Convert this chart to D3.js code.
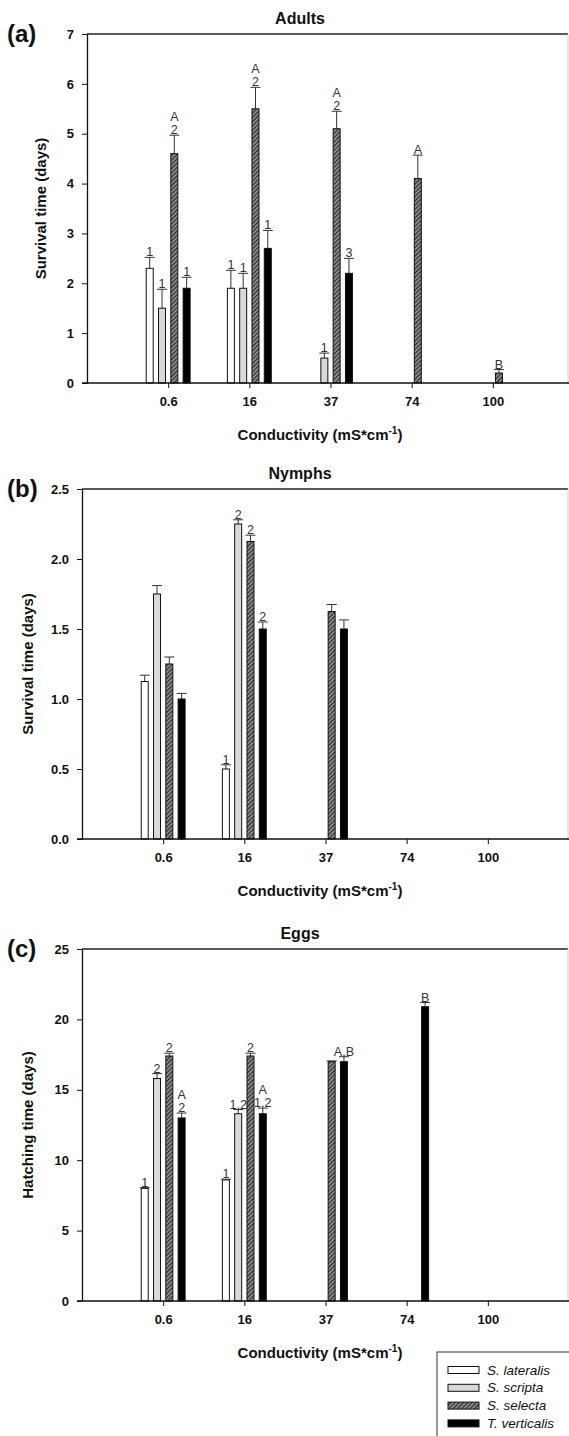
<!DOCTYPE html>
<html>
<head>
<meta charset="utf-8">
<script src="https://cdn.jsdelivr.net/npm/d3@7"></script>
<style>
  body { margin: 0; background: #fff; }
  svg text { font-family: "Liberation Sans", Arial, sans-serif; }
</style>
</head>
<body>
<div id="chart"></div>
<script>
// categories and series
var categories = ["0.6", "16", "37", "74", "100"];
var species = ["S. lateralis", "S. scripta", "S. selecta", "T. verticalis"];

// values are [category][species], null = no bar
var adultsMean = [[2.3, 1.5, 4.6, 1.9], [1.9, 1.9, 5.5, 2.7], [null, 0.5, 5.1, 2.2], [null, null, 4.1, null], [null, null, 0.2, null]];
var adultsErr  = [[0.22, 0.38, 0.37, 0.22], [0.36, 0.3, 0.43, 0.36], [null, 0.1, 0.35, 0.3], [null, null, 0.47, null], [null, null, 0.07, null]];
var adultsLab  = [["1", "1", "A\n2", "1"], ["1", "1", "A\n2", "1"], [null, "1", "A\n2", "3"], [null, null, "A", null], [null, null, "B", null]];

var nymphsMean = [[1.125, 1.75, 1.25, 1.0], [0.5, 2.25, 2.125, 1.5], [null, null, 1.625, 1.5], [null, null, null, null], [null, null, null, null]];
var nymphsErr  = [[0.045, 0.06, 0.05, 0.04], [0.03, 0.03, 0.045, 0.05], [null, null, 0.05, 0.065], [null, null, null, null], [null, null, null, null]];
var nymphsLab  = [[null, null, null, null], ["1", "2", "2", "2"], [null, null, null, null], [null, null, null, null], [null, null, null, null]];

var eggsMean = [[8.0, 15.8, 17.4, 13.0], [8.6, 13.3, 17.4, 13.3], [null, null, 17.0, 17.0], [null, null, null, 20.9], [null, null, null, null]];
var eggsErr  = [[0.05, 0.35, 0.2, 0.35], [0.05, 0.3, 0.2, 0.4], [null, null, 0.05, 0.35], [null, null, null, 0.3], [null, null, null, null]];
var eggsLab  = [["1", "2", "2", "A\n2"], ["1", "1,2", "2", "A\n1,2"], [null, null, null, "A,B"], [null, null, null, "B"], [null, null, null, null]];

var adultsTicks = [0, 1, 2, 3, 4, 5, 6, 7];
var nymphsTicks = [0, 0.5, 1, 1.5, 2, 2.5];
var eggsTicks = [0, 5, 10, 15, 20, 25];

var W = 569, H = 1436;
var svg = d3.select("#chart").append("svg").attr("width", W).attr("height", H);

var defs = svg.append("defs");
var pat = defs.append("pattern").attr("id", "hatch")
    .attr("patternUnits", "userSpaceOnUse")
    .attr("width", 3).attr("height", 3)
    .attr("patternTransform", "rotate(45)");
pat.append("rect").attr("width", 3).attr("height", 3).attr("fill", "#8e8e8e");
pat.append("line").attr("x1", 0.5).attr("y1", 0).attr("x2", 0.5).attr("y2", 3)
    .attr("stroke", "#262626").attr("stroke-width", 1.2);

var fills = ["#ffffff", "#d9d9d9", "url(#hatch)", "#000000"];

var right = 568;
var step = 12.3, barW = 7;

var panels = [
  {tag: "(a)", title: "Adults", ylab: "Survival time (days)", left: 87, top: 34, bottom: 383, max: 7, ticks: adultsTicks, fmt: d3.format("d"), mean: adultsMean, err: adultsErr, lab: adultsLab, ylabX: 46},
  {tag: "(b)", title: "Nymphs", ylab: "Survival time (days)", left: 82, top: 489, bottom: 839, max: 2.5, ticks: nymphsTicks, fmt: d3.format(".1f"), mean: nymphsMean, err: nymphsErr, lab: nymphsLab, ylabX: 33},
  {tag: "(c)", title: "Eggs", ylab: "Hatching time (days)", left: 82, top: 949, bottom: 1301, max: 25, ticks: eggsTicks, fmt: d3.format("d"), mean: eggsMean, err: eggsErr, lab: eggsLab, ylabX: 33}
];

panels.forEach(function(p) {
  var g = svg.append("g");
  var left = p.left;
  var x = d3.scalePoint().domain(categories).range([left, left + 487]).padding(1);
  var y = d3.scaleLinear().domain([0, p.max]).range([p.bottom, p.top]);

  // frame top and right
  g.append("line").attr("x1", left).attr("x2", right).attr("y1", p.top).attr("y2", p.top)
      .attr("stroke", "#222").attr("stroke-width", 1.6);
  g.append("line").attr("x1", right).attr("x2", right).attr("y1", p.top).attr("y2", p.bottom)
      .attr("stroke", "#ccc").attr("stroke-width", 1);

  // bars
  categories.forEach(function(c, i) {
    species.forEach(function(s, j) {
      var v = p.mean[i][j];
      if (v == null) return;
      var cx = x(c) + (j - 1.5) * step;
      var e = p.err[i][j];
      var yTop = y(v + e);
      g.append("line").attr("x1", cx).attr("x2", cx).attr("y1", y(v)).attr("y2", yTop)
          .attr("stroke", "#333").attr("stroke-width", 1);
      g.append("line").attr("x1", cx - 5).attr("x2", cx + 5).attr("y1", yTop).attr("y2", yTop)
          .attr("stroke", "#333").attr("stroke-width", 1);
      g.append("rect").attr("x", cx - barW / 2).attr("y", y(v))
          .attr("width", barW).attr("height", y(0) - y(v))
          .attr("fill", fills[j]).attr("stroke", "#111").attr("stroke-width", 1);
      var lab = p.lab[i][j];
      if (lab) {
        var lines = lab.split("\n").reverse();
        lines.forEach(function(t, k) {
          g.append("text").attr("x", cx).attr("y", yTop - 1 - k * 13)
              .attr("text-anchor", "middle").attr("font-size", 12.5)
              .attr("fill", "#333").text(t);
        });
      }
    });
  });

  // axes
  var ya = g.append("g").attr("transform", "translate(" + left + ",0)")
      .call(d3.axisLeft(y).tickValues(p.ticks).tickFormat(p.fmt).tickSize(5).tickSizeOuter(0).tickPadding(8));
  var xa = g.append("g").attr("transform", "translate(0," + p.bottom + ")")
      .call(d3.axisBottom(x).tickSize(5).tickSizeOuter(0).tickPadding(9));
  xa.select(".domain").remove();
  g.append("line").attr("x1", left - 5).attr("x2", right + 1).attr("y1", p.bottom).attr("y2", p.bottom)
      .attr("stroke", "#111").attr("stroke-width", 1.3);
  [ya, xa].forEach(function(a) {
    a.selectAll("text").attr("font-size", 13).attr("font-weight", "bold").attr("fill", "#111")
        .style("font-family", "Liberation Sans, Arial, sans-serif");
    a.selectAll("line").attr("stroke", "#111");
  });
  ya.select(".domain").attr("stroke", "#111").attr("stroke-width", 1.3);

  // titles
  g.append("text").attr("x", 300).attr("y", p.top - 10).attr("text-anchor", "middle")
      .attr("font-size", 16).attr("font-weight", "bold").attr("fill", "#111").text(p.title);
  g.append("text").attr("x", 7).attr("y", p.top + 8).attr("font-size", 24)
      .attr("font-weight", "bold").attr("fill", "#111").text(p.tag);
  g.append("text").attr("transform", "translate(" + p.ylabX + "," + ((p.top + p.bottom) / 2) + ") rotate(-90)")
      .attr("text-anchor", "middle").attr("font-size", 15).attr("font-weight", "bold")
      .attr("fill", "#111").text(p.ylab);
  var xt = g.append("text").attr("x", 320).attr("y", p.bottom + 57).attr("text-anchor", "middle")
      .attr("font-size", 15).attr("font-weight", "bold").attr("fill", "#111");
  xt.append("tspan").text("Conductivity (mS*cm");
  xt.append("tspan").attr("font-size", 10).attr("dy", -6).text("-1");
  xt.append("tspan").attr("dy", 6).text(")");
});

// legend
var lg = svg.append("g").attr("transform", "translate(437,1352)");
lg.append("rect").attr("x", 0).attr("y", 0).attr("width", 140).attr("height", 90)
    .attr("fill", "#fff").attr("stroke", "#333").attr("stroke-width", 1);
species.forEach(function(s, j) {
  var yy = 18 + j * 17.8;
  lg.append("rect").attr("x", 11).attr("y", yy - 3.5).attr("width", 31).attr("height", 7)
      .attr("fill", fills[j]).attr("stroke", "#111").attr("stroke-width", 1);
  lg.append("text").attr("x", 50).attr("y", yy + 4.5).attr("font-size", 13.5)
      .attr("font-style", "italic").attr("fill", "#111").text(s);
});
</script>
</body>
</html>
